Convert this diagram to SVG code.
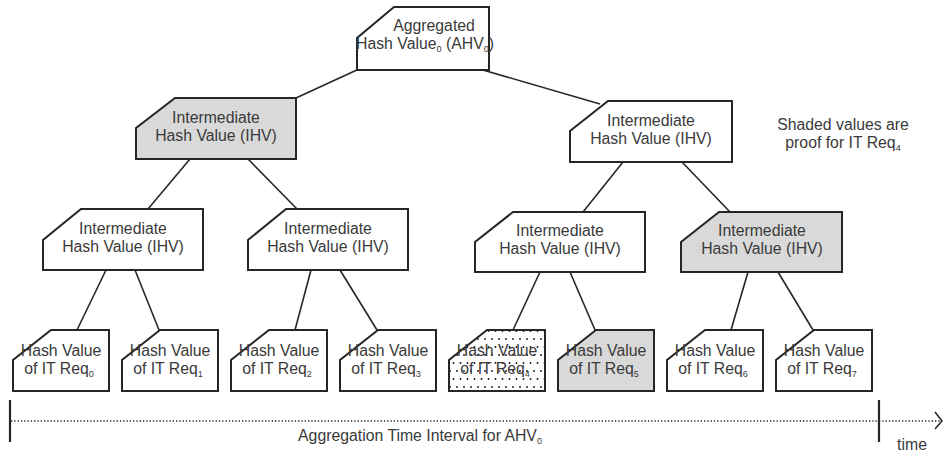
<svg xmlns="http://www.w3.org/2000/svg" width="944" height="453" viewBox="0 0 944 453">
  <style>
    .box { fill: #ffffff; stroke: #262626; stroke-width: 2; }
    .shaded { fill: #d9d9d9; }
    .dotted { fill: url(#dots); }
    .lbl { font-family: "Liberation Sans", Arial, sans-serif; font-size: 15.8px; fill: #3a3a3a; text-anchor: middle; }
    .sub { font-size: 9px; }
    .edge { stroke: #262626; stroke-width: 1.6; fill: none; }
    .axis { stroke: #262626; stroke-width: 1.6; stroke-dasharray: 1.3 2; fill: none; }
    .tick { stroke: #262626; stroke-width: 2.2; }
  </style>
  <defs>
    <pattern id="dots" width="7" height="16" patternUnits="userSpaceOnUse">
      <rect width="7" height="16" fill="#ffffff"/>
      <circle cx="2" cy="3" r="0.9" fill="#111"/>
      <circle cx="5.5" cy="11" r="0.9" fill="#111"/>
    </pattern>
  </defs>

  <!-- tree connectors -->
  <g id="connectors">
    <line class="edge" x1="359" y1="69" x2="296" y2="98"/>
    <line class="edge" x1="476" y1="68" x2="600" y2="104"/>
    <line class="edge" x1="190" y1="159" x2="148" y2="209"/>
    <line class="edge" x1="248" y1="159" x2="297" y2="209"/>
    <line class="edge" x1="623" y1="162" x2="583" y2="212"/>
    <line class="edge" x1="682" y1="162" x2="730" y2="212"/>
    <line class="edge" x1="106" y1="270" x2="77" y2="330"/>
    <line class="edge" x1="135" y1="270" x2="159" y2="330"/>
    <line class="edge" x1="311" y1="270" x2="295" y2="330"/>
    <line class="edge" x1="340" y1="270" x2="377" y2="330"/>
    <line class="edge" x1="540" y1="272" x2="513" y2="330"/>
    <line class="edge" x1="570" y1="272" x2="595" y2="330"/>
    <line class="edge" x1="748" y1="272" x2="731" y2="330"/>
    <line class="edge" x1="778" y1="272" x2="813" y2="330"/>
  </g>

  <!-- root -->
  <g id="ahv0">
    <path class="box" d="M394,7 H489 V70 H357 V38 Z"/>
    <text class="lbl" x="434" y="31">Aggregated</text>
    <text class="lbl" x="425" y="49">Hash Value<tspan class="sub" dy="3">0</tspan><tspan dy="-3"> (AHV</tspan><tspan class="sub" dy="3">0</tspan><tspan dy="-3">)</tspan></text>
  </g>

  <!-- first level -->
  <g id="ihv-l">
    <path class="box shaded" d="M175,98 H296 V159 H136 V128 Z"/>
    <text class="lbl" x="216" y="123">Intermediate</text>
    <text class="lbl" x="216" y="141">Hash Value (IHV)</text>
  </g>
  <g id="ihv-r">
    <path class="box" d="M608,101 H732 V162 H570 V131 Z"/>
    <text class="lbl" x="651" y="126">Intermediate</text>
    <text class="lbl" x="651" y="144">Hash Value (IHV)</text>
  </g>

  <!-- second level -->
  <g id="ihv-ll">
    <path class="box" d="M81,209 H203 V270 H43 V240 Z"/>
    <text class="lbl" x="123" y="234">Intermediate</text>
    <text class="lbl" x="123" y="252">Hash Value (IHV)</text>
  </g>
  <g id="ihv-lr">
    <path class="box" d="M286,209 H408 V270 H248 V240 Z"/>
    <text class="lbl" x="328" y="234">Intermediate</text>
    <text class="lbl" x="328" y="252">Hash Value (IHV)</text>
  </g>
  <g id="ihv-rl">
    <path class="box" d="M513,212 H645 V272 H475 V242 Z"/>
    <text class="lbl" x="560" y="236">Intermediate</text>
    <text class="lbl" x="560" y="254">Hash Value (IHV)</text>
  </g>
  <g id="ihv-rr">
    <path class="box shaded" d="M719,212 H842 V272 H681 V242 Z"/>
    <text class="lbl" x="762" y="236">Intermediate</text>
    <text class="lbl" x="762" y="254">Hash Value (IHV)</text>
  </g>

  <!-- leaves -->
  <g id="req0">
    <path class="box" d="M51,330 H109 V391 H13 V360 Z"/>
    <text class="lbl" x="61" y="356">Hash Value</text>
    <text class="lbl" x="59" y="374">of IT Req<tspan class="sub" dy="3">0</tspan></text>
  </g>
  <g id="req1">
    <path class="box" d="M160,330 H218 V391 H122 V360 Z"/>
    <text class="lbl" x="170" y="356">Hash Value</text>
    <text class="lbl" x="168" y="374">of IT Req<tspan class="sub" dy="3">1</tspan></text>
  </g>
  <g id="req2">
    <path class="box" d="M269,330 H327 V391 H231 V360 Z"/>
    <text class="lbl" x="279" y="356">Hash Value</text>
    <text class="lbl" x="277" y="374">of IT Req<tspan class="sub" dy="3">2</tspan></text>
  </g>
  <g id="req3">
    <path class="box" d="M378,330 H436 V391 H340 V360 Z"/>
    <text class="lbl" x="388" y="356">Hash Value</text>
    <text class="lbl" x="386" y="374">of IT Req<tspan class="sub" dy="3">3</tspan></text>
  </g>
  <g id="req4">
    <path class="box dotted" d="M487,330 H545 V391 H449 V360 Z"/>
    <text class="lbl" x="497" y="356">Hash Value</text>
    <text class="lbl" x="495" y="374">of IT Req<tspan class="sub" dy="3">4</tspan></text>
  </g>
  <g id="req5">
    <path class="box shaded" d="M596,330 H654 V391 H558 V360 Z"/>
    <text class="lbl" x="606" y="356">Hash Value</text>
    <text class="lbl" x="604" y="374">of IT Req<tspan class="sub" dy="3">5</tspan></text>
  </g>
  <g id="req6">
    <path class="box" d="M705,330 H763 V391 H667 V360 Z"/>
    <text class="lbl" x="715" y="356">Hash Value</text>
    <text class="lbl" x="713" y="374">of IT Req<tspan class="sub" dy="3">6</tspan></text>
  </g>
  <g id="req7">
    <path class="box" d="M814,330 H872 V391 H776 V360 Z"/>
    <text class="lbl" x="824" y="356">Hash Value</text>
    <text class="lbl" x="822" y="374">of IT Req<tspan class="sub" dy="3">7</tspan></text>
  </g>

  <!-- legend -->
  <text class="lbl" x="843" y="130">Shaded values are</text>
  <text class="lbl" x="843" y="148">proof for IT Req<tspan class="sub" dy="3">4</tspan></text>

  <!-- time axis -->
  <g id="timeline">
    <line class="axis" x1="11" y1="421" x2="940" y2="421"/>
    <polyline points="935,412 942,421 935,429" fill="none" stroke="#262626" stroke-width="1.5"/>
    <line class="tick" x1="10" y1="400" x2="10" y2="442"/>
    <line class="tick" x1="879" y1="400" x2="879" y2="442"/>
    <text class="lbl" x="420" y="441">Aggregation Time Interval for AHV<tspan class="sub" dy="3">0</tspan></text>
    <text class="lbl" x="912" y="450">time</text>
  </g>
</svg>
